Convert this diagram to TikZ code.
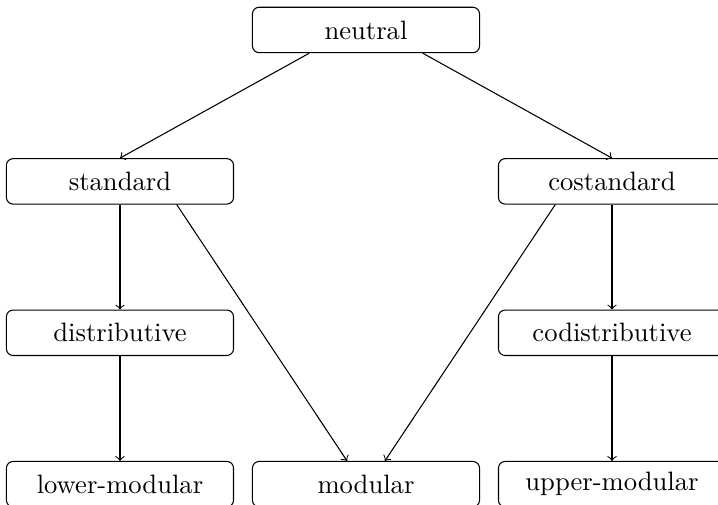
\documentclass[tikz,border=0pt]{standalone}
\begin{document}
\begin{tikzpicture}[box/.style={draw,rounded corners=2.5pt,minimum width=3cm,minimum height=0.6cm}]
			\useasboundingbox (-4.835,0.396) rectangle (4.65,-6.275);
			\node[box] (neutral) at (0,0) {neutral};
			\node[box] (standard) at (-3.25,-2) {standard};
			\node[box] (costandard) at (3.25,-2) {costandard};
			\node[box] (distributive) at (-3.25,-4) {distributive};
			\node[box] (codistributive) at (3.25,-4) {codistributive};
			\node[box] (lowermod) at (-3.25,-6) {lower-modular};
			\node[box] (modular) at (0,-6) {modular};
			\node[box] (uppermod) at (3.25,-6) {upper-modular};
			\draw[->] ([xshift=-0.75cm]neutral.south) -- (standard.north);
			\draw[->] ([xshift=0.75cm]neutral.south) -- (costandard.north);
			\draw[->] (standard) -- (distributive);
			\draw[->] (costandard) -- (codistributive);
			\draw[->] (distributive) -- (lowermod);
			\draw[->] (codistributive) -- (uppermod);
			\draw[->] ([xshift=0.75cm]standard.south) -- ([xshift=-0.25cm]modular.north);
			\draw[->] ([xshift=-0.75cm]costandard.south) -- ([xshift=0.25cm]modular.north);
		\end{tikzpicture}
\end{document}
